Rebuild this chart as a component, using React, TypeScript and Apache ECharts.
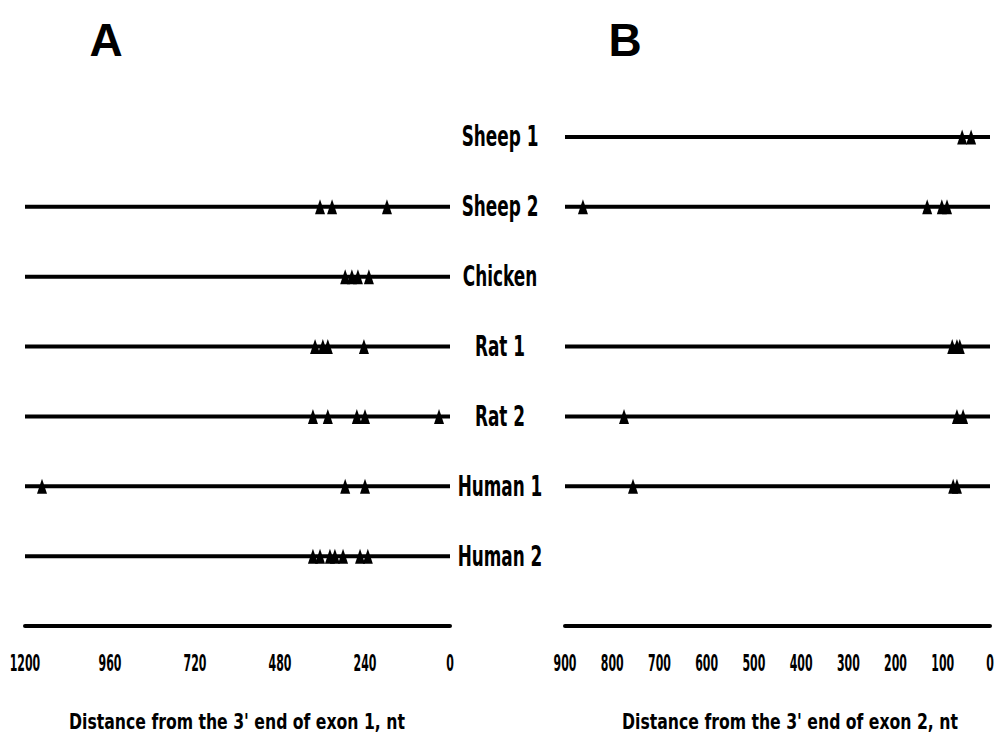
import React, { useEffect, useRef } from "react";
import * as echarts from "echarts";

const rows = ["Sheep 1", "Sheep 2", "Chicken", "Rat 1", "Rat 2", "Human 1", "Human 2", ""];

// Panel A: distance from the 3' end of exon 1 (nt)
const exon1HasLine = [false, true, true, true, true, true, true];
const exon1Sites: number[][] = [
  [],
  [367, 333, 178],
  [296, 277, 260, 229],
  [381, 359, 345, 243],
  [387, 345, 263, 240, 31],
  [1152, 296, 240],
  [387, 367, 339, 325, 302, 254, 232],
];
const exon1Max = 1200;
const exon1Interval = 240;
const exon1Ticks = [1200, 960, 720, 480, 240, 0];

// Panel B: distance from the 3' end of exon 2 (nt)
const exon2HasLine = [true, true, false, true, true, true, false];
const exon2Sites: number[][] = [
  [59, 40],
  [862, 133, 102, 91],
  [],
  [80, 70, 64],
  [775, 70, 57],
  [756, 78, 70],
  [],
];
const exon2Max = 900;
const exon2Interval = 100;
const exon2Ticks = [900, 800, 700, 600, 500, 400, 300, 200, 100, 0];

const FONT = "'DejaVu Sans Condensed', 'DejaVu Sans', sans-serif";

function panelSeries(hasLine: boolean[], sites: number[][], max: number, idx: number) {
  const out: any[] = [];
  hasLine.forEach((h, r) => {
    if (!h) return;
    out.push({
      type: "line",
      xAxisIndex: idx,
      yAxisIndex: idx,
      data: [
        [0, r],
        [max, r],
      ],
      symbol: "none",
      clip: false,
      lineStyle: { color: "#000", width: 4 },
      z: 2,
    });
  });
  const pts: number[][] = [];
  sites.forEach((s, r) => s.forEach((v) => pts.push([v, r])));
  out.push({
    type: "scatter",
    xAxisIndex: idx,
    yAxisIndex: idx,
    data: pts,
    symbol: "triangle",
    symbolSize: [10, 15],
    clip: false,
    itemStyle: { color: "#000", opacity: 1 },
    z: 3,
  });
  return out;
}

function txt(text: string, x: number, y: number, size: number, sx: number, family = FONT) {
  return {
    type: "text",
    x,
    y,
    scaleX: sx,
    style: {
      text,
      fill: "#000",
      font: `bold ${size}px ${family}`,
      textAlign: "center",
      textVerticalAlign: "middle",
    },
  };
}

export default function App() {
  const ref = useRef<HTMLDivElement>(null);
  useEffect(() => {
    if (!ref.current) return;
    const chart = echarts.init(ref.current, null, { renderer: "svg" });
    const xAxisCommon = (max: number, interval: number, idx: number) => ({
      type: "value",
      gridIndex: idx,
      min: 0,
      max,
      interval,
      inverse: true,
      axisLine: { show: true, lineStyle: { color: "#000", width: 4 } },
      axisTick: { show: false },
      splitLine: { show: false },
      axisLabel: { show: false },
    });
    const yAxisCommon = (idx: number) => ({
      type: "category",
      gridIndex: idx,
      data: rows,
      inverse: true,
      boundaryGap: false,
      position: "right",
      axisLine: { show: false },
      axisTick: { show: false },
      splitLine: { show: false },
      axisLabel: { show: false },
    });
    chart.setOption({
      animation: false,
      backgroundColor: "#fff",
      grid: [
        { left: 25, width: 425, top: 137, height: 489 },
        { left: 565, width: 425, top: 137, height: 489 },
      ],
      xAxis: [xAxisCommon(exon1Max, exon1Interval, 0), xAxisCommon(exon2Max, exon2Interval, 1)],
      yAxis: [yAxisCommon(0), yAxisCommon(1)],
      series: [
        ...panelSeries(exon1HasLine, exon1Sites, exon1Max, 0),
        ...panelSeries(exon2HasLine, exon2Sites, exon2Max, 1),
      ],
    });

    const labelY = 663;
    const graphics: any[] = [];
    const gridRight0 = chart.convertToPixel({ xAxisIndex: 0 }, 0) as number;
    rows.forEach((name, r) => {
      if (!name) return;
      const y = chart.convertToPixel({ yAxisIndex: 0 }, r) as number;
      graphics.push(txt(name, gridRight0 + 50, y, 28, 0.67));
    });
    exon1Ticks.forEach((v) => {
      const x = chart.convertToPixel({ xAxisIndex: 0 }, v) as number;
      graphics.push(txt(String(v), x, labelY, 23, 0.53));
    });
    exon2Ticks.forEach((v) => {
      const x = chart.convertToPixel({ xAxisIndex: 1 }, v) as number;
      graphics.push(txt(String(v), x, labelY, 23, 0.53));
    });
    graphics.push(txt("A", 106, 40, 46, 1, "'Liberation Sans', Arial, sans-serif"));
    graphics.push(txt("B", 625, 40, 46, 1, "'Liberation Sans', Arial, sans-serif"));
    graphics.push(txt("Distance from the 3' end of exon 1, nt", 237, 722, 21, 0.83));
    graphics.push(txt("Distance from the 3' end of exon 2, nt", 790, 722, 21, 0.83));
    chart.setOption({ graphic: graphics });

    return () => chart.dispose();
  }, []);
  return (
    <div
      ref={ref}
      style={{ position: "absolute", left: 0, top: 0, width: 997, height: 753 }}
    />
  );
}
